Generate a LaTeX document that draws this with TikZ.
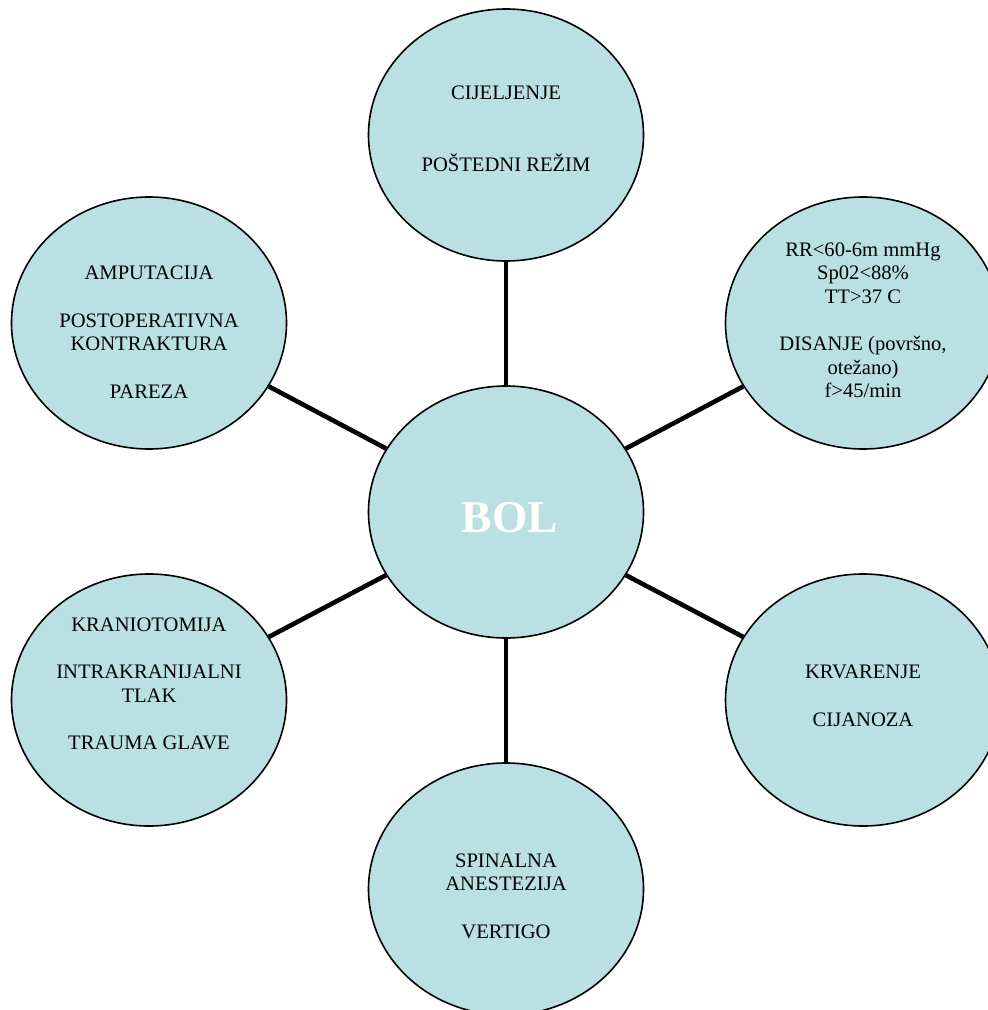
\documentclass[tikz,border=0pt]{standalone}
\usepackage{fontspec}
\setmainfont{Liberation Serif}
\usetikzlibrary{shapes.geometric}

\definecolor{bubbleblue}{RGB}{187,224,227}

\tikzset{
  bubble/.style={ellipse, draw, line width=0.8pt, fill=bubbleblue,
    minimum width=137.5pt, minimum height=126pt, inner sep=0pt},
  txt/.style={align=center, font=\fontsize{10.3}{11.75}\selectfont},
  link/.style={line width=2.3pt}
}

\begin{document}
\begin{tikzpicture}[x=0.5pt, y=-0.5pt]
        \useasboundingbox (0,0) rectangle (988,1010);
        \clip (0,0) rectangle (988,1010);

        \node[bubble] (bol)     at (506,512) {};
        \node[bubble] (cijel)   at (506,135) {};
        \node[bubble] (amput)   at (149,323) {};
        \node[bubble] (disanje) at (863,323) {};
        \node[bubble] (kranio)  at (149,700) {};
        \node[bubble] (krvar)   at (863,700) {};
        \node[bubble] (spinal)  at (506,889) {};

        \draw[link] (bol) -- (cijel);
        \draw[link] (bol) -- (amput);
        \draw[link] (bol) -- (disanje);
        \draw[link] (bol) -- (kranio);
        \draw[link] (bol) -- (krvar);
        \draw[link] (bol) -- (spinal);

        \node[white, font=\fontsize{22.75}{27}\selectfont\bfseries] at (510,518) {BOL};
        \node[txt] at (506,129) {CIJELJENJE\\[24.25pt]POŠTEDNI REŽIM};
        \node[txt] at (149,332) {AMPUTACIJA\\[12pt]POSTOPERATIVNA\\KONTRAKTURA\\[12pt]PAREZA};
        \node[txt] at (863,320) {RR<60-6m mmHg\\Sp02<88\%\\TT>37 C\\[12pt]DISANJE (površno,\\otežano)\\f>45/min};
        \node[txt] at (149,684) {KRANIOTOMIJA\\[12pt]INTRAKRANIJALNI\\TLAK\\[12pt]TRAUMA GLAVE};
        \node[txt] at (863,696) {KRVARENJE\\[12pt]CIJANOZA};
        \node[txt] at (506,896) {SPINALNA\\ANESTEZIJA\\[12pt]VERTIGO};
      \end{tikzpicture}
\end{document}
